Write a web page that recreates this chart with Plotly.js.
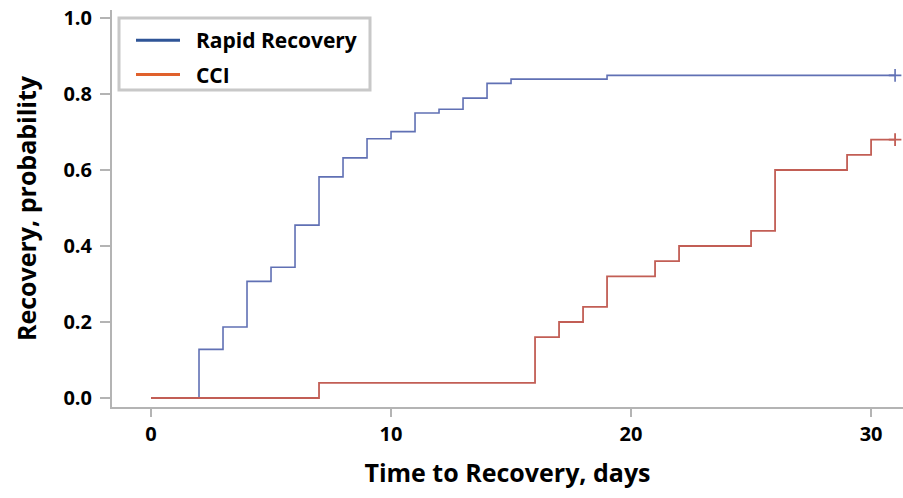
<!DOCTYPE html>
<html>
<head>
<meta charset="utf-8">
<script src="https://cdn.plot.ly/plotly-3.0.1.min.js"></script>
<style>html,body{margin:0;padding:0;background:#fff;}#chart{width:903px;height:498px;}</style>
</head>
<body>
<div id="chart"></div>
<script>
// Kaplan-Meier style step data (event times, cumulative recovery probability)
const rapidTimes = [0, 2, 3, 4, 5, 6, 7, 8, 9, 10, 11, 12, 13, 14, 15, 19, 31];
const rapidProb  = [0, 0.128, 0.187, 0.307, 0.344, 0.455, 0.582, 0.632, 0.682, 0.701, 0.750, 0.760, 0.789, 0.828, 0.839, 0.849, 0.849];
const cciTimes = [0, 7, 16, 17, 18, 19, 21, 22, 25, 26, 29, 30, 31];
const cciProb  = [0, 0.04, 0.16, 0.20, 0.24, 0.32, 0.36, 0.40, 0.44, 0.60, 0.64, 0.68, 0.68];
const censorTime = 31;
const seriesNames = ["Rapid Recovery", "CCI"];
const xTicks = [0, 10, 20, 30];
const yTicks = [0, 0.2, 0.4, 0.6, 0.8, 1.0];

const FONT = "'Open Sans', sans-serif";
const lineBlue = "#6070b4", lineRed = "#c25e55";
const legBlue = "#2f5597", legRed = "#e0612c";

const traces = [
  {x: rapidTimes, y: rapidProb, mode: "lines", line: {shape: "hv", color: lineBlue, width: 1.6}, showlegend: false, hoverinfo: "skip"},
  {x: cciTimes, y: cciProb, mode: "lines", line: {shape: "hv", color: lineRed, width: 1.8}, showlegend: false, hoverinfo: "skip"},
  {x: [censorTime], y: [rapidProb[rapidProb.length-1]], mode: "markers", marker: {symbol: "cross-thin-open", size: 9, color: lineBlue, line: {color: lineBlue, width: 1.6}}, showlegend: false},
  {x: [censorTime], y: [cciProb[cciProb.length-1]], mode: "markers", marker: {symbol: "cross-thin-open", size: 9, color: lineRed, line: {color: lineRed, width: 1.8}}, showlegend: false},
  {x: [null], y: [null], mode: "lines", name: "&nbsp;&nbsp;" + seriesNames[0], legendgroup: "a", line: {color: legBlue, width: 3}},
  {x: [null], y: [null], mode: "lines", name: "&nbsp;&nbsp;" + seriesNames[1], legendgroup: "b", line: {color: legRed, width: 3}}
];

// pixel helpers for legend frame (paper coordinates)
const PL = 112, PW = 791, PT = 10, PH = 397;
const px = v => (v - PL) / PW, py = v => (PT + PH - v) / PH;

const layout = {
  width: 903, height: 498,
  margin: {l: PL, r: 0, t: PT, b: 91, pad: 0},
  paper_bgcolor: "#fff", plot_bgcolor: "#fff",
  font: {family: FONT, color: "#000"},
  xaxis: {
    range: [-1.625, 31.33], tickvals: xTicks, ticktext: xTicks.map(String),
    showgrid: false, zeroline: false, showline: true, linecolor: "#b4b4b4", linewidth: 2,
    ticks: "outside", ticklen: 8, tickcolor: "#b4b4b4", tickwidth: 1.5,
    tickfont: {family: FONT, size: 20, color: "#000", weight: "bold"},
    title: {text: "<b>Time to Recovery, days</b>", font: {family: FONT, size: 25, color: "#000"}, standoff: 18}
  },
  yaxis: {
    range: [-0.0237, 1.021], tickvals: yTicks, ticktext: yTicks.map(v => v.toFixed(1)),
    showgrid: false, zeroline: false, showline: true, linecolor: "#b4b4b4", linewidth: 2,
    ticks: "outside", ticklen: 10, tickcolor: "#b4b4b4", tickwidth: 1.5, ticklabelstandoff: 4,
    tickfont: {family: FONT, size: 20, color: "#000", weight: "bold"},
    title: {text: "<b>Recovery, probability</b>", font: {family: FONT, size: 25, color: "#000"}, standoff: 20}
  },
  shapes: [
    {type: "rect", xref: "paper", yref: "paper", x0: px(119), x1: px(370), y0: py(90), y1: py(18),
     line: {color: "#c8c8c8", width: 3}, fillcolor: "#fff", layer: "above"}
  ],
  legend: {
    x: px(131), y: py(20), xanchor: "left", yanchor: "top",
    bgcolor: "rgba(0,0,0,0)", borderwidth: 0,
    font: {family: FONT, size: 21, color: "#000", weight: "bold"},
    itemwidth: 44, tracegroupgap: 4
  },
  showlegend: true
};

Plotly.newPlot("chart", traces, layout, {displayModeBar: false, staticPlot: true});
</script>
</body>
</html>
